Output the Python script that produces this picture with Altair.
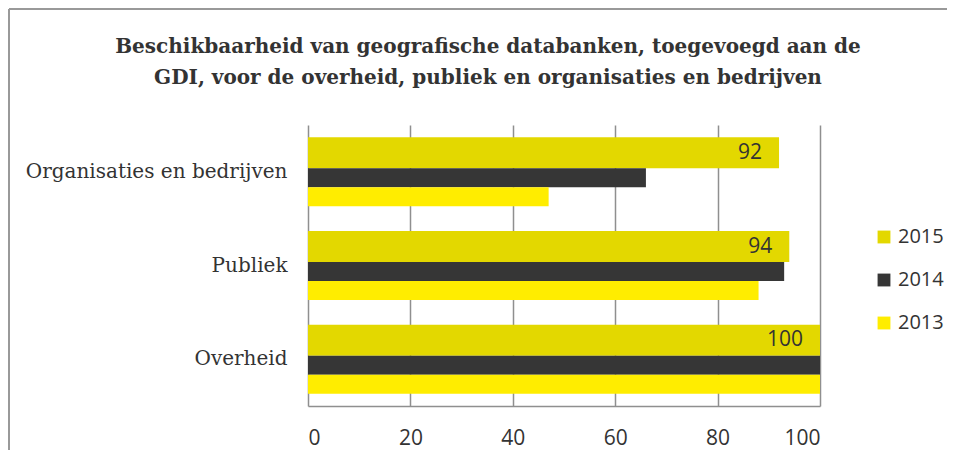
import altair as alt
import pandas as pd

categories = ["Organisaties en bedrijven", "Publiek", "Overheid"]
series = ["2015", "2014", "2013"]
v2015 = [92, 94, 100]
v2014 = [66, 93, 100]
v2013 = [47, 88, 100]
colors = ["#E3D800", "#363636", "#FFED00"]
x_ticks = [0, 20, 40, 60, 80, 100]
title_lines = [
    "Beschikbaarheid van geografische databanken, toegevoegd aan de",
    "GDI, voor de overheid, publiek en organisaties en bedrijven",
]

rows = []
for s, vals in zip(series, [v2015, v2014, v2013]):
    for c, v in zip(categories, vals):
        rows.append({"cat": c, "series": s, "value": v})
df = pd.DataFrame(rows)

SANS = "Open Sans"
SERIF = "DejaVu Serif"
TXT = "#333333"
GRID = "#8f8f8f"

y_enc = alt.Y(
    "cat:N",
    sort=categories,
    scale=alt.Scale(paddingInner=0, paddingOuter=0),
    axis=alt.Axis(
        title=None, ticks=False, domain=False, grid=False,
        labelFont=SERIF, labelFontSize=20, labelColor=TXT,
        labelPadding=21, labelLimit=400,
    ),
)
x_enc = alt.X(
    "value:Q",
    scale=alt.Scale(domain=[0, 100], nice=False),
    axis=alt.Axis(
        title=None, values=x_ticks, ticks=False, grid=True,
        gridColor=GRID, gridWidth=1.5, domainColor=GRID, domainWidth=1.5,
        labelFont=SANS, labelFontSize=21, labelColor=TXT, labelPadding=21,
    ),
)
color_enc = alt.Color(
    "series:N",
    scale=alt.Scale(domain=series, range=colors),
    legend=alt.Legend(
        title=None, orient="none", legendX=566, legendY=102,
        symbolType="square", symbolSize=165, symbolStrokeWidth=0,
        labelFont=SANS, labelFontSize=20, labelColor=TXT,
        rowPadding=23, labelOffset=4,
    ),
)

base = alt.Chart(df)
bar_specs = [("2015", 31, -19), ("2014", 19, 6), ("2013", 19, 25)]
layers = []
for s, h, off in bar_specs:
    layers.append(
        base.transform_filter(alt.datum.series == s)
        .mark_bar(height=h, yOffset=off)
        .encode(x=x_enc, y=y_enc, color=color_enc)
    )

labels = (
    base.transform_filter(alt.datum.series == "2015")
    .mark_text(align="right", baseline="middle", dx=-17, yOffset=-19,
               font=SANS, fontSize=21, color=TXT)
    .encode(x=x_enc, y=y_enc, text="value:Q")
)

title_layers = []
for line, ypos in zip(title_lines, [-78, -47]):
    title_layers.append(
        alt.Chart(pd.DataFrame({"line": [line]}))
        .mark_text(align="center", baseline="middle", font=SERIF, fontSize=20,
                   fontWeight="bold", color=TXT)
        .encode(x=alt.value(180), y=alt.value(ypos), text="line:N")
    )

border_top = alt.Chart(pd.DataFrame({"a": [0]})).mark_rule(color="#999999", strokeWidth=2).encode(
    x=alt.value(-299), x2=alt.value(640), y=alt.value(-116)
)
border_left = alt.Chart(pd.DataFrame({"a": [0]})).mark_rule(color="#999999", strokeWidth=2).encode(
    x=alt.value(-299), y=alt.value(-116), y2=alt.value(330)
)

chart = (
    alt.layer(*layers, labels, *title_layers, border_top, border_left)
    .properties(
        width=512, height=281,
        autosize=alt.AutoSizeParams(type="none"),
        padding={"left": 300, "top": 117, "right": 127, "bottom": 44},
    )
    .configure_view(stroke=None)
)

chart.save("out.html", embed_options={"renderer": "svg", "actions": False})
